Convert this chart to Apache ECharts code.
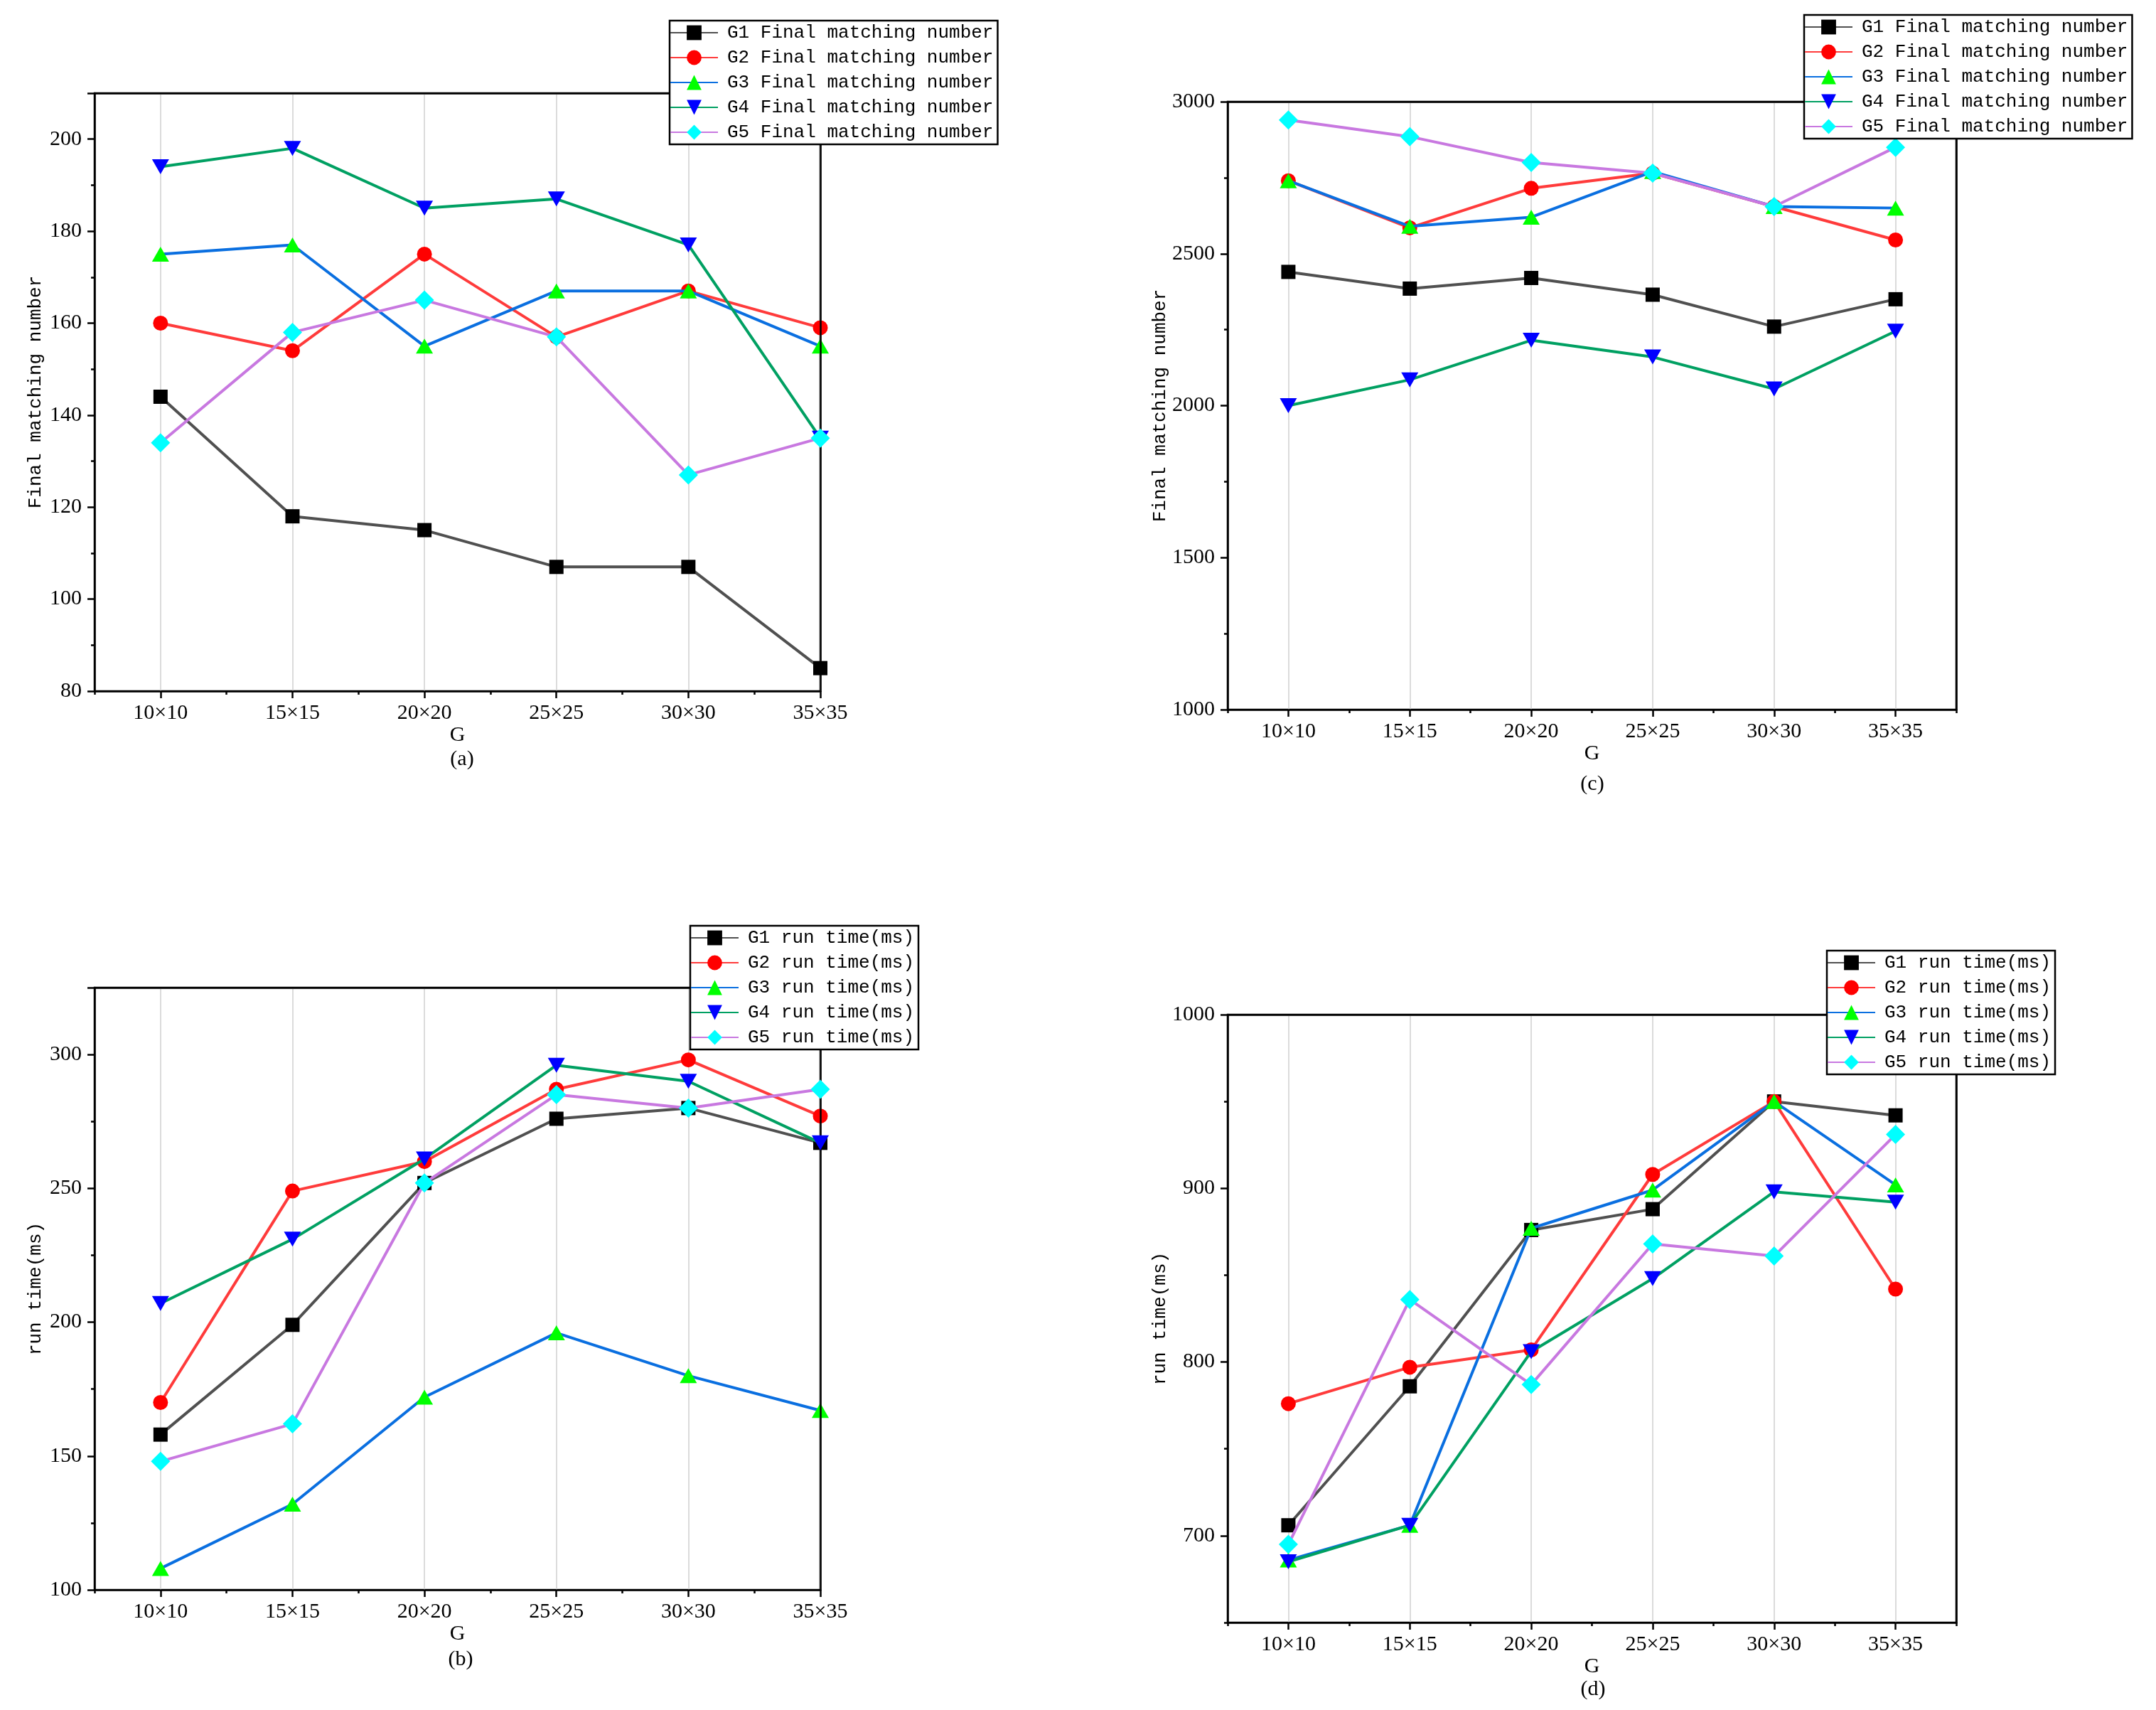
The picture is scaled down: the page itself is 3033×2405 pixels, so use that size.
<!DOCTYPE html>
<html><head><meta charset="utf-8">
<script src="https://cdn.jsdelivr.net/npm/echarts@6/dist/echarts.min.js"></script>
<style>html,body{margin:0;padding:0;background:#fff}#c{width:3033px;height:2405px}</style>
</head><body><div id="c"></div>
<script>
// ---------- data ----------
const categories = ['10×10', '15×15', '20×20', '25×25', '30×30', '35×35'];
const groups = ['G1', 'G2', 'G3', 'G4', 'G5'];

// (a) Final matching number
const matchA_G1 = [144, 118, 115, 107, 107, 85];
const matchA_G2 = [160, 154, 175, 157, 167, 159];
const matchA_G3 = [175, 177, 155, 167, 167, 155];
const matchA_G4 = [194, 198, 185, 187, 177, 135];
const matchA_G5 = [134, 158, 165, 157, 127, 135];

// (b) run time (ms)
const timeB_G1 = [158, 199, 252, 276, 280, 267];
const timeB_G2 = [170, 249, 260, 287, 298, 277];
const timeB_G3 = [108, 132, 172, 196, 180, 167];
const timeB_G4 = [207, 231, 261, 296, 290, 267];
const timeB_G5 = [148, 162, 252, 285, 280, 287];

// (c) Final matching number
const matchC_G1 = [2440, 2385, 2420, 2365, 2260, 2350];
const matchC_G2 = [2740, 2585, 2715, 2765, 2655, 2545];
const matchC_G3 = [2740, 2590, 2620, 2770, 2655, 2650];
const matchC_G4 = [2000, 2085, 2215, 2160, 2055, 2245];
const matchC_G5 = [2940, 2885, 2800, 2765, 2655, 2850];

// (d) run time (ms)
const timeD_G1 = [706, 786, 876, 888, 950, 942];
const timeD_G2 = [776, 797, 807, 908, 950, 842];
const timeD_G3 = [686, 706, 877, 899, 950, 902];
const timeD_G4 = [685, 706, 806, 848, 898, 892];
const timeD_G5 = [695, 836, 787, 868, 861, 931];

// tick values
const xMajorTicks = [0, 1, 2, 3, 4, 5];
const xMinorTicksAB = [-0.5, 0.5, 1.5, 2.5, 3.5, 4.5];
const xMinorTicksCD = [-0.5, 0.5, 1.5, 2.5, 3.5, 4.5, 5.5];
const yMajorTicksD = [700, 800, 900, 1000];
const yMinorTicksD = [650, 750, 850, 950];

const matchName = ' Final matching number';
const timeName = ' run time(ms)';

// ---------- styles ----------
const styles = [
  { line: '#505050', symbol: 'rect', fill: '#000000', size: 20, rotate: 0 },
  { line: '#ff3b3b', symbol: 'circle', fill: '#ff0000', size: 21, rotate: 0 },
  { line: '#0a6fe0', symbol: 'triangle', fill: '#00ff00', size: [24, 21], rotate: 0 },
  { line: '#00a062', symbol: 'triangle', fill: '#0000ff', size: [24, 21], rotate: 180 },
  { line: '#c878e0', symbol: 'diamond', fill: '#00ffff', size: [27, 27], rotate: 0 }
];

const panels = [
  { grid: { left: 133, top: 131, width: 1021, height: 841 }, xMax: 5, minor: xMinorTicksAB,
    y: { min: 80, max: 210, interval: 20 }, yName: 'Final matching number', yGap: 70,
    suffix: matchName, data: [matchA_G1, matchA_G2, matchA_G3, matchA_G4, matchA_G5],
    legend: { left: 942, top: 29 }, caption: { text: '(a)', x: 650, y: 1068 } },
  { grid: { left: 133, top: 1389, width: 1021, height: 847 }, xMax: 5, minor: xMinorTicksAB,
    y: { min: 100, max: 325, interval: 50 }, yName: 'run time(ms)', yGap: 70,
    suffix: timeName, data: [timeB_G1, timeB_G2, timeB_G3, timeB_G4, timeB_G5],
    legend: { left: 971, top: 1302 }, caption: { text: '(b)', x: 648, y: 2334 } },
  { grid: { left: 1727, top: 143, width: 1025, height: 855 }, xMax: 5.5, minor: xMinorTicksCD,
    y: { min: 1000, max: 3000, interval: 500 }, yName: 'Final matching number', yGap: 80,
    suffix: matchName, data: [matchC_G1, matchC_G2, matchC_G3, matchC_G4, matchC_G5],
    legend: { left: 2538, top: 21 }, caption: { text: '(c)', x: 2240, y: 1103 } },
  { grid: { left: 1727, top: 1427, width: 1025, height: 855 }, xMax: 5.5, minor: xMinorTicksCD,
    y: { min: 650, max: 1000, custom: true }, yName: 'run time(ms)', yGap: 80,
    suffix: timeName, data: [timeD_G1, timeD_G2, timeD_G3, timeD_G4, timeD_G5],
    legend: { left: 2570, top: 1337 }, caption: { text: '(d)', x: 2241, y: 2376 } }
];

const axisLineStyle = { color: '#000', width: 2.5 };
const serifLabel = { fontFamily: 'Liberation Serif', fontSize: 30, color: '#000' };
const monoText = { fontFamily: 'Liberation Mono', fontSize: 26, color: '#000' };
const plainNum = v => String(v);

const grids = [], xAxes = [], yAxes = [], series = [], legends = [], graphics = [];

panels.forEach((p, gi) => {
  grids.push(Object.assign({ show: true, borderColor: '#000', borderWidth: 2.5, backgroundColor: 'rgba(0,0,0,0)' }, p.grid));
  const xMain = xAxes.length;
  // major x axis: ticks + labels at categories
  xAxes.push({
    type: 'value', gridIndex: gi, position: 'bottom', min: -0.5, max: p.xMax, z: 6,
    axisLine: { show: true, onZero: false, lineStyle: axisLineStyle },
    axisTick: { show: true, inside: false, length: 10, customValues: xMajorTicks, lineStyle: axisLineStyle },
    axisLabel: { show: true, customValues: xMajorTicks, margin: 16,
      formatter: v => categories[Math.round(v)] ?? '', ...serifLabel },
    splitLine: { show: false },
    name: 'G', nameLocation: 'middle', nameGap: 37, nameTextStyle: { ...serifLabel }
  });
  // minor x ticks
  xAxes.push({
    type: 'value', gridIndex: gi, position: 'bottom', min: -0.5, max: p.xMax, z: 6,
    axisLine: { show: false, onZero: false },
    axisTick: { show: true, inside: false, length: 5, customValues: p.minor, lineStyle: axisLineStyle },
    axisLabel: { show: false }, splitLine: { show: false }
  });
  // vertical grid lines at categories
  xAxes.push({
    type: 'value', gridIndex: gi, position: 'bottom', min: -0.5, max: p.xMax, interval: 0.5, z: 0,
    axisLine: { show: false, onZero: false }, axisTick: { show: false }, axisLabel: { show: false },
    splitLine: { show: true, lineStyle: { color: ['rgba(0,0,0,0)', '#cfcfcf'], width: 1.5 } }
  });
  // top frame
  xAxes.push({
    type: 'value', gridIndex: gi, position: 'top', min: -0.5, max: p.xMax, z: 6,
    axisLine: { show: true, onZero: false, lineStyle: axisLineStyle }, axisTick: { show: false },
    axisLabel: { show: false }, splitLine: { show: false }
  });

  const yMain = yAxes.length;
  if (!p.y.custom) {
    yAxes.push({
      type: 'value', gridIndex: gi, position: 'left', min: p.y.min, max: p.y.max, interval: p.y.interval, z: 6,
      axisLine: { show: true, onZero: false, lineStyle: axisLineStyle },
      axisTick: { show: true, inside: false, length: 10, lineStyle: axisLineStyle },
      minorTick: { show: true, splitNumber: 2, length: 5, lineStyle: axisLineStyle },
      axisLabel: { show: true, margin: 18, formatter: plainNum,
        showMaxLabel: p.y.max % p.y.interval === 0, ...serifLabel },
      splitLine: { show: false },
      name: p.yName, nameLocation: 'middle', nameGap: p.yGap, nameTextStyle: { ...monoText }
    });
  } else {
    yAxes.push({
      type: 'value', gridIndex: gi, position: 'left', min: p.y.min, max: p.y.max, z: 6,
      axisLine: { show: true, onZero: false, lineStyle: axisLineStyle },
      axisTick: { show: true, inside: false, length: 10, customValues: yMajorTicksD, lineStyle: axisLineStyle },
      axisLabel: { show: true, margin: 18, customValues: yMajorTicksD, formatter: plainNum, ...serifLabel },
      splitLine: { show: false },
      name: p.yName, nameLocation: 'middle', nameGap: p.yGap, nameTextStyle: { ...monoText }
    });
    yAxes.push({
      type: 'value', gridIndex: gi, position: 'left', min: p.y.min, max: p.y.max, z: 6,
      axisLine: { show: false, onZero: false },
      axisTick: { show: true, inside: false, length: 5, customValues: yMinorTicksD, lineStyle: axisLineStyle },
      axisLabel: { show: false }, splitLine: { show: false }
    });
  }
  // right frame
  yAxes.push({
    type: 'value', gridIndex: gi, position: 'right', min: p.y.min, max: p.y.max, z: 6,
    axisLine: { show: true, onZero: false, lineStyle: axisLineStyle }, axisTick: { show: false },
    axisLabel: { show: false }, splitLine: { show: false }
  });

  const names = groups.map(g => g + p.suffix);
  p.data.forEach((vals, si) => {
    const s = styles[si];
    series.push({
      type: 'line', name: names[si], xAxisIndex: xMain, yAxisIndex: yMain,
      data: vals.map((v, i) => [i, v]),
      symbol: s.symbol, symbolSize: s.size, symbolRotate: s.rotate, showAllSymbol: true,
      lineStyle: { color: s.line, width: 4 },
      itemStyle: { color: s.fill, borderWidth: 0 },
      z: 3 + si, animation: false
    });
  });

  legends.push({
    orient: 'vertical', left: p.legend.left, top: p.legend.top, data: names,
    itemWidth: 67, itemHeight: 26, itemGap: 7, padding: [3, 6, 3, 0],
    borderColor: '#000', borderWidth: 2.5, backgroundColor: '#fff', z: 20,
    selectedMode: false,
    textStyle: { ...monoText, lineHeight: 28, padding: [0, 0, 0, 8] }
  });

  graphics.push({
    type: 'text', x: p.caption.x, y: p.caption.y, z: 30,
    style: { text: p.caption.text, fontFamily: 'Liberation Serif', fontSize: 30, fill: '#000',
      align: 'center', verticalAlign: 'middle' }
  });
});

const chart = echarts.init(document.getElementById('c'), null, { renderer: 'canvas' });
chart.setOption({
  backgroundColor: '#ffffff',
  animation: false,
  grid: grids, xAxis: xAxes, yAxis: yAxes, series: series, legend: legends, graphic: graphics
});
</script></body></html>
